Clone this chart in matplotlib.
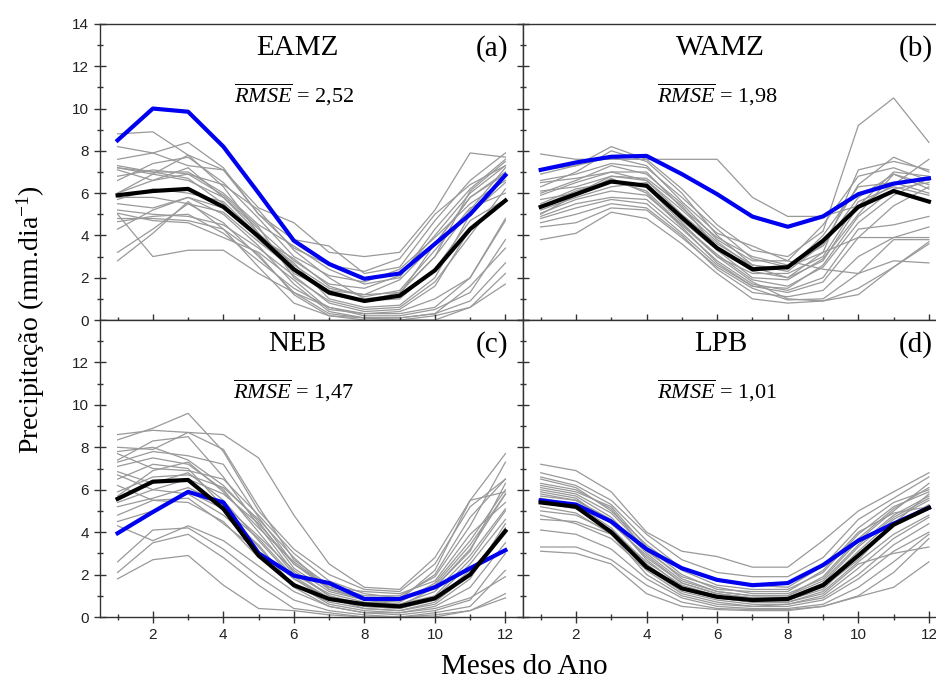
import matplotlib.pyplot as plt
import numpy as np

plt.rcParams['mathtext.fontset'] = 'custom'
plt.rcParams['mathtext.rm'] = 'Liberation Serif'
plt.rcParams['mathtext.it'] = 'Liberation Serif:italic'

months = np.arange(1, 13)

regions = ["EAMZ", "WAMZ", "NEB", "LPB"]
letters = ["(a)", "(b)", "(c)", "(d)"]
rmse = ["2,52", "1,98", "1,47", "1,01"]

# observed (black) and ensemble (blue)
obs_a = [5.9, 6.1, 6.2, 5.35, 3.95, 2.4, 1.3, 0.9, 1.15, 2.35, 4.3, 5.65]
obs_b = [5.35, 5.95, 6.55, 6.35, 4.85, 3.4, 2.4, 2.5, 3.75, 5.35, 6.1, 5.6]
obs_c = [5.57, 6.38, 6.46, 5.1, 2.9, 1.5, 0.85, 0.6, 0.5, 0.88, 2.0, 4.05]
obs_d = [5.4, 5.2, 4.0, 2.35, 1.35, 0.95, 0.8, 0.85, 1.5, 2.9, 4.35, 5.15]

mod_a = [8.5, 10.0, 9.85, 8.2, 6.0, 3.75, 2.65, 1.95, 2.2, 3.6, 5.0, 6.85]
mod_b = [7.1, 7.45, 7.72, 7.76, 6.9, 5.95, 4.89, 4.41, 4.9, 5.95, 6.45, 6.7]
mod_c = [3.95, 4.95, 5.9, 5.4, 3.0, 1.95, 1.6, 0.85, 0.85, 1.4, 2.3, 3.15]
mod_d = [5.5, 5.3, 4.5, 3.2, 2.3, 1.75, 1.5, 1.6, 2.45, 3.6, 4.4, 5.15]

# individual models (gray)
gray_a = [
    [8.8, 8.9, 7.8, 6.3, 4.1, 2.2, 1.4, 1.2, 1.3, 3.0, 5.2, 7.2],
    [8.2, 7.9, 7.3, 7.1, 5.3, 4.6, 3.2, 3.0, 3.2, 5.2, 7.9, 7.7],
    [7.6, 7.9, 8.4, 7.2, 5.0, 3.8, 3.5, 2.2, 2.5, 4.7, 6.6, 7.9],
    [7.3, 7.0, 7.0, 6.0, 4.5, 3.5, 2.4, 1.7, 2.0, 4.3, 6.2, 7.6],
    [7.2, 6.9, 6.6, 5.8, 4.3, 2.8, 1.7, 1.5, 2.1, 4.0, 6.0, 7.3],
    [7.1, 6.6, 6.9, 6.4, 5.2, 3.3, 2.0, 1.0, 1.2, 3.6, 5.8, 7.0],
    [6.6, 7.4, 7.7, 6.5, 4.8, 3.0, 2.1, 1.8, 2.4, 3.9, 5.5, 6.6],
    [6.0, 6.6, 7.2, 5.8, 4.1, 2.6, 1.5, 1.2, 1.9, 3.6, 5.8, 6.9],
    [5.8, 5.8, 5.5, 5.1, 3.7, 2.4, 1.3, 0.9, 1.0, 2.4, 4.7, 5.7],
    [5.7, 6.2, 6.0, 5.6, 4.0, 2.7, 1.0, 0.6, 0.7, 2.0, 5.0, 6.5],
    [5.2, 5.0, 4.9, 4.5, 3.4, 2.1, 0.8, 0.4, 0.5, 1.6, 4.3, 5.7],
    [5.05, 4.7, 4.6, 3.9, 3.2, 1.9, 0.5, 0.3, 0.3, 0.6, 2.0, 4.8],
    [4.65, 4.9, 5.0, 4.1, 2.8, 1.5, 0.6, 0.2, 0.2, 0.5, 1.3, 3.8],
    [4.3, 5.2, 5.8, 5.0, 3.5, 1.7, 0.4, 0.1, 0.1, 0.3, 0.9, 2.7],
    [3.2, 4.3, 5.5, 4.6, 3.0, 1.3, 0.3, 0.1, 0.0, 0.2, 0.6, 2.2],
    [2.8, 4.1, 5.6, 4.3, 2.5, 0.8, 0.2, 0.0, 0.0, 0.0, 0.6, 1.7],
    [5.0, 3.0, 3.3, 3.3, 2.2, 1.3, 0.6, 0.3, 0.4, 1.0, 2.0, 4.7],
    [6.0, 6.9, 7.8, 7.1, 5.0, 3.4, 2.6, 2.3, 2.9, 5.0, 6.4, 7.3],
    [7.2, 7.0, 6.7, 5.5, 3.8, 2.3, 1.2, 0.9, 1.3, 3.0, 6.1, 7.5],
    [5.5, 5.3, 5.8, 5.3, 3.9, 2.9, 1.6, 1.1, 1.4, 3.3, 5.3, 6.0],
    [6.8, 7.1, 6.9, 5.9, 4.4, 2.0, 0.9, 0.5, 0.6, 1.8, 4.0, 6.2],
    [4.8, 4.8, 4.7, 4.3, 3.1, 1.2, 0.2, 0.1, 0.1, 0.3, 1.6, 3.4],
]
gray_b = [
    [7.85, 7.6, 7.6, 7.6, 7.6, 7.6, 5.8, 4.9, 4.9, 5.4, 6.4, 7.6],
    [7.1, 7.3, 8.2, 7.6, 6.2, 4.5, 3.3, 3.0, 4.2, 9.2, 10.5, 8.4],
    [6.3, 7.0, 8.0, 7.5, 6.0, 4.0, 2.6, 2.3, 3.6, 6.4, 7.7, 7.0],
    [6.0, 6.6, 7.3, 6.9, 5.5, 3.8, 2.8, 2.8, 4.5, 6.8, 7.2, 6.6],
    [5.9, 6.5, 7.0, 7.0, 5.3, 3.9, 3.0, 2.6, 3.5, 5.8, 6.9, 6.4],
    [5.7, 6.0, 6.8, 6.6, 5.0, 3.6, 2.6, 2.4, 4.0, 6.3, 6.5, 6.0],
    [5.5, 6.2, 6.5, 6.3, 4.6, 3.0, 2.2, 2.2, 3.0, 5.6, 6.3, 5.9],
    [5.2, 5.8, 6.3, 6.5, 4.7, 3.3, 2.0, 1.9, 2.9, 5.0, 6.9, 6.2],
    [5.05, 5.7, 6.1, 5.9, 4.5, 3.1, 1.9, 1.6, 2.5, 4.6, 5.9, 6.7],
    [4.9, 5.5, 5.8, 5.7, 4.3, 2.8, 1.7, 1.4, 2.0, 4.3, 4.5, 4.9],
    [4.8, 5.3, 5.7, 5.5, 4.1, 2.6, 1.6, 1.3, 1.8, 3.9, 5.4, 6.3],
    [4.6, 5.0, 5.5, 5.3, 4.0, 2.4, 1.3, 1.1, 1.4, 3.0, 3.9, 4.4],
    [4.4, 4.6, 5.3, 5.2, 3.9, 2.5, 1.5, 0.95, 1.0, 2.2, 3.8, 3.8],
    [3.8, 4.1, 5.1, 4.8, 3.6, 2.2, 1.0, 0.8, 0.9, 1.5, 2.5, 3.6],
    [6.9, 7.3, 7.7, 7.3, 5.6, 4.1, 3.5, 2.8, 2.4, 2.2, 2.8, 2.7],
    [6.6, 6.9, 7.4, 7.2, 5.8, 4.3, 2.9, 2.5, 3.2, 3.9, 3.9, 3.9],
    [5.4, 6.1, 6.6, 6.1, 4.5, 3.0, 1.8, 1.0, 0.9, 1.2, 2.5, 3.7],
    [6.1, 6.3, 6.8, 6.7, 5.4, 3.4, 2.3, 2.0, 3.2, 7.1, 7.5, 7.1],
    [5.0, 5.9, 6.7, 6.0, 4.4, 2.7, 1.6, 1.5, 2.6, 4.9, 6.2, 6.5],
    [6.5, 6.7, 7.0, 6.6, 5.2, 3.7, 2.5, 2.0, 2.8, 5.4, 7.0, 6.8],
]
gray_c = [
    [8.6, 8.8, 8.7, 8.6, 7.5, 4.8, 2.5, 1.4, 1.3, 2.8, 5.5, 7.7],
    [8.35, 8.9, 9.6, 7.8, 5.0, 3.2, 2.0, 1.3, 1.2, 2.5, 5.2, 6.5],
    [8.0, 7.9, 8.7, 7.9, 5.2, 2.7, 1.5, 1.0, 1.0, 1.9, 4.3, 7.3],
    [7.8, 8.0, 7.4, 6.2, 4.5, 2.3, 1.2, 0.8, 0.7, 1.6, 3.6, 6.0],
    [7.4, 8.3, 8.5, 6.6, 4.3, 2.1, 1.0, 0.6, 0.5, 1.4, 3.2, 5.8],
    [7.1, 7.5, 7.2, 6.0, 4.0, 2.0, 1.1, 0.7, 0.6, 1.2, 2.9, 5.1],
    [6.85, 6.3, 6.8, 5.5, 3.6, 1.8, 0.8, 0.5, 0.4, 0.9, 2.5, 4.6],
    [6.5, 7.2, 7.0, 5.2, 3.3, 1.5, 0.7, 0.4, 0.3, 0.7, 2.0, 4.2],
    [5.9, 6.6, 6.7, 6.1, 4.6, 2.8, 1.3, 0.9, 0.9, 2.0, 4.7, 6.5],
    [5.4, 6.0, 6.5, 5.8, 4.4, 2.5, 1.4, 1.2, 1.1, 1.7, 3.9, 5.4],
    [5.2, 5.6, 6.1, 5.3, 3.8, 2.2, 1.0, 0.5, 0.4, 0.8, 2.2, 4.0],
    [4.8, 5.5, 5.4, 4.5, 2.8, 1.6, 0.6, 0.3, 0.2, 0.5, 1.4, 3.5],
    [4.3, 3.6, 4.3, 3.6, 2.4, 1.2, 0.5, 0.2, 0.1, 0.3, 0.8, 3.0],
    [2.6, 4.1, 4.2, 3.2, 1.9, 0.8, 0.3, 0.1, 0.0, 0.2, 0.5, 2.2],
    [2.1, 3.5, 3.9, 2.8, 1.5, 0.4, 0.2, 0.0, 0.0, 0.0, 0.3, 0.9],
    [1.8, 2.7, 2.9, 1.5, 0.4, 0.3, 0.1, 0.0, 0.0, 0.1, 0.3, 1.1],
    [6.2, 5.5, 5.6, 4.4, 3.1, 1.8, 0.9, 0.4, 0.3, 0.6, 1.8, 4.4],
    [7.7, 7.0, 6.9, 6.5, 4.8, 3.0, 1.7, 1.1, 0.9, 1.5, 3.4, 5.8],
    [5.7, 6.9, 7.3, 5.9, 4.2, 2.6, 1.4, 0.8, 0.6, 1.0, 2.7, 5.0],
    [6.7, 6.0, 5.8, 4.8, 3.4, 1.4, 0.5, 0.2, 0.2, 0.4, 0.9, 1.9],
    [4.5, 5.0, 5.9, 5.1, 3.7, 1.9, 0.9, 0.6, 0.8, 2.2, 5.5, 5.9],
    [7.3, 7.8, 7.6, 7.2, 4.7, 2.5, 1.3, 0.8, 0.8, 1.4, 3.1, 6.3],
]
gray_d = [
    [7.2, 6.9, 5.9, 4.0, 3.1, 2.85, 2.35, 2.35, 3.6, 5.0, 5.9, 6.8],
    [6.8, 6.4, 5.5, 3.9, 2.7, 2.1, 1.9, 1.9, 2.8, 4.6, 5.6, 6.6],
    [6.6, 6.2, 5.3, 3.6, 2.3, 1.7, 1.5, 1.4, 2.4, 4.2, 5.4, 6.0],
    [6.5, 6.1, 5.0, 3.4, 2.2, 1.5, 1.3, 1.3, 2.1, 3.9, 5.2, 5.9],
    [6.3, 6.0, 5.1, 3.1, 1.9, 1.4, 1.1, 1.1, 1.8, 3.6, 5.0, 6.3],
    [6.1, 5.8, 4.9, 3.2, 1.8, 1.2, 1.0, 1.0, 1.7, 3.4, 4.8, 5.7],
    [5.9, 5.6, 4.4, 2.9, 1.6, 1.1, 0.9, 0.9, 1.5, 3.1, 4.6, 5.5],
    [5.8, 5.5, 4.6, 2.7, 1.4, 1.0, 0.8, 0.8, 1.3, 2.9, 4.3, 5.3],
    [5.6, 5.3, 4.2, 2.5, 1.3, 0.9, 0.7, 0.7, 1.2, 2.6, 3.9, 4.8],
    [5.2, 4.9, 3.9, 2.3, 1.2, 0.8, 0.6, 0.6, 1.0, 2.3, 3.7, 4.7],
    [4.8, 4.4, 3.7, 2.2, 1.1, 0.7, 0.5, 0.6, 0.9, 2.0, 3.4, 4.4],
    [4.6, 4.5, 3.9, 2.0, 1.0, 0.6, 0.5, 0.5, 0.8, 1.8, 3.1, 4.0],
    [4.1, 3.9, 3.2, 1.8, 0.9, 0.5, 0.4, 0.4, 0.6, 1.4, 2.6, 3.9],
    [3.3, 3.3, 2.7, 1.5, 0.7, 0.4, 0.35, 0.35, 0.5, 1.0, 2.1, 3.7],
    [3.1, 3.0, 2.5, 1.1, 0.5, 0.35, 0.3, 0.3, 0.5, 0.96, 1.4, 2.6],
    [6.0, 5.7, 4.7, 3.0, 1.7, 1.2, 1.0, 1.0, 1.9, 3.7, 5.1, 6.1],
    [5.4, 5.1, 4.1, 2.6, 1.5, 1.0, 0.8, 0.8, 1.4, 2.7, 4.4, 5.8],
    [6.2, 5.9, 5.2, 3.3, 2.0, 1.3, 1.2, 1.2, 2.2, 4.0, 4.9, 5.2],
    [5.0, 4.8, 4.0, 2.4, 1.3, 0.9, 0.7, 0.7, 1.1, 2.5, 3.0, 3.3],
    [5.7, 5.5, 4.5, 2.8, 1.6, 1.1, 0.9, 0.9, 1.6, 3.3, 4.7, 5.6],
]

obs = [obs_a, obs_b, obs_c, obs_d]
mod = [mod_a, mod_b, mod_c, mod_d]
grays = [gray_a, gray_b, gray_c, gray_d]

fig = plt.figure(figsize=(9.37, 6.79), dpi=100)

# panel boxes in figure fraction (right column runs past the edge, as in the original)
x0, xm, x1 = 0.1067, 0.5582, 1.0102
y0, ym, y1 = 0.0913, 0.5287, 0.9647
boxes = [
    [x0, ym, xm - x0, y1 - ym],
    [xm, ym, x1 - xm, y1 - ym],
    [x0, y0, xm - x0, ym - y0],
    [xm, y0, x1 - xm, ym - y0],
]

for i in range(4):
    ax = fig.add_axes(boxes[i])
    for g in grays[i]:
        ax.plot(months, g, color='#999999', lw=0.9, zorder=1)
    ax.plot(months, mod[i], color='#0000f0', lw=3.0, zorder=3)
    ax.plot(months, obs[i], color='black', lw=3.0, zorder=4)

    ax.set_xlim(0.5, 12.5)
    ax.set_ylim(0, 14)
    ax.set_xticks(np.arange(2, 13, 2))
    ax.set_xticks(np.arange(1, 13, 2), minor=True)
    ax.set_yticks(np.arange(0, 15, 2))
    ax.set_yticks(np.arange(1, 14, 2), minor=True)
    ax.tick_params(which='major', direction='inout', length=9, width=1,
                   color='#333333', labelsize=11, labelcolor='#222222')
    ax.tick_params(which='minor', direction='inout', length=5, width=1,
                   color='#333333')
    for lab in ax.get_xticklabels() + ax.get_yticklabels():
        lab.set_fontfamily('Liberation Sans')
    for s in ax.spines.values():
        s.set_color('#333333')
        s.set_linewidth(1.0)

    if i < 2:
        ax.tick_params(labelbottom=False)
    if i % 2 == 1:
        ax.tick_params(labelleft=False)
    if i == 2:
        ax.set_yticks(np.arange(0, 13, 2))

    ax.text(6.1, 12.85, regions[i], ha='center', va='center',
            fontsize=21, family='Liberation Serif')
    ax.text(11.62, 12.85, letters[i], ha='center', va='center',
            fontsize=21, family='Liberation Serif')
    ax.text(6.0, 10.65, r'$\overline{RMSE}$ = ' + rmse[i], ha='center', va='center',
            fontsize=16, family='Liberation Serif')

fig.text(0.033, 0.53, 'Precipitação (mm.dia$^{\\mathrm{-1}}$)', rotation=90,
         ha='center', va='center', fontsize=20, family='Liberation Serif')
fig.text(0.56, 0.018, 'Meses do Ano', ha='center', va='center',
         fontsize=21, family='Liberation Serif')

plt.savefig('out.png', dpi=100)
